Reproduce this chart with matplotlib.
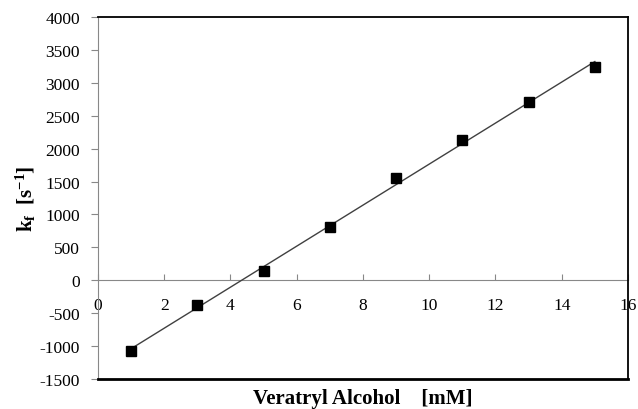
import numpy as np
import matplotlib
matplotlib.use("Agg")
import matplotlib.pyplot as plt

plt.rcParams['font.family'] = ['Liberation Serif', 'DejaVu Serif']
plt.rcParams['mathtext.fontset'] = 'custom'
plt.rcParams['mathtext.rm'] = 'Liberation Serif'
plt.rcParams['mathtext.bf'] = 'Liberation Serif:bold'
plt.rcParams['mathtext.default'] = 'regular'
plt.rcParams['axes.unicode_minus'] = False

# veratryl alcohol concentration (mM) vs observed rate constant
conc = [1, 3, 5, 7, 9, 11, 13, 15]
kf = [-1076, -380, 141, 813, 1556, 2136, 2707, 3237]

x_ticks = list(range(0, 17, 2))
y_ticks = list(range(-1500, 4001, 500))

fig = plt.figure(figsize=(6.38, 4.10), dpi=100)
ax = fig.add_axes([0.1536, 0.0732, 0.8307, 0.8829])

# linear trend line over the data range
slope, icept = np.polyfit(conc, kf, 1)
xl = np.array([conc[0], conc[-1]])
ax.plot(xl, slope * xl + icept, color='#404040', lw=1.0, zorder=2)
ax.plot(conc, kf, 's', color='black', ms=7.2, zorder=3)

ax.set_xlim(0, 16)
ax.set_ylim(y_ticks[0], y_ticks[-1])
ax.set_yticks(y_ticks)

# black frame; the x axis itself runs through y = 0
for side in ['top', 'right', 'bottom']:
    ax.spines[side].set_color('black')
    ax.spines[side].set_linewidth(1.3)
ax.spines['bottom'].set_linewidth(2.0)
ax.spines['left'].set_color('#888888')
ax.tick_params(axis='x', bottom=False, labelbottom=False)
ax.tick_params(axis='y', direction='out', length=5, color='#888888',
               labelsize=12.5, pad=8)

zero_frac = -y_ticks[0] / (y_ticks[-1] - y_ticks[0])
xax = ax.secondary_xaxis(zero_frac)
xax.set_xticks(x_ticks)
xax.spines['bottom'].set_color('#888888')
xax.tick_params(axis='x', direction='in', length=4, color='#888888',
                labelsize=12.5, pad=12)

ax.set_xlabel('Veratryl Alcohol    [mM]', fontsize=15, fontweight='bold')
ax.xaxis.set_label_coords(0.5, -0.025)
ax.set_ylabel(r'k$_\mathregular{f}$  [s$^\mathregular{-1}$]', fontsize=15,
              fontweight='bold')
ax.yaxis.set_label_coords(-0.113, 0.5)

fig.savefig('out.png', dpi=100)
